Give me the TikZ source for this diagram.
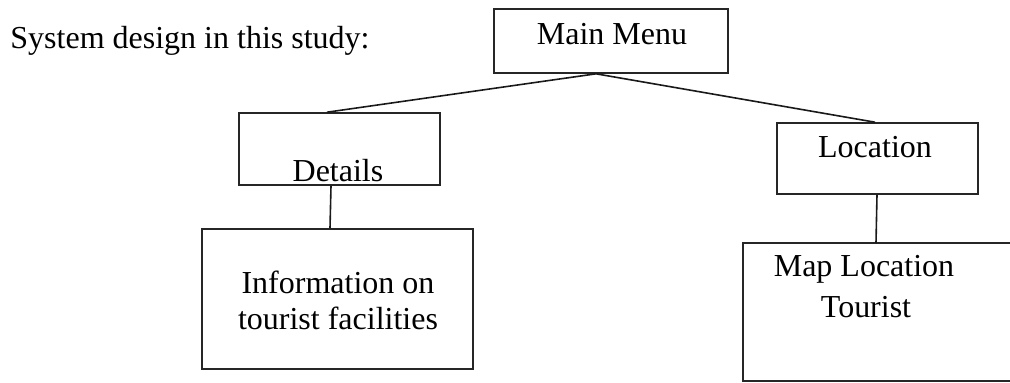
\documentclass[tikz,border=0pt]{standalone}
\usepackage{fontspec}
\setmainfont{Liberation Serif}
\usetikzlibrary{calc}
\begin{document}
\begin{tikzpicture}[x=1pt,y=-1pt,
  box/.style={draw=black!85,line width=1.6pt,rectangle,inner sep=0pt},
  txt/.style={anchor=base,inner sep=0pt,font=\fontsize{32}{36}\selectfont},
  conn/.style={draw=black!90,line width=1.6pt}]
\clip (0,0) rectangle (1010,383);
% boxes
\node[box,minimum width=234pt,minimum height=64pt] (main) at (611,41) {};
\node[box,minimum width=201pt,minimum height=72pt] (det) at (339.5,149) {};
\node[box,minimum width=271pt,minimum height=140pt] (info) at (337.5,299) {};
\node[box,minimum width=201pt,minimum height=71pt] (loc) at (877.5,158.5) {};
\node[box,minimum width=300pt,minimum height=138pt] (map) at (893,312) {};
% texts
\node[txt] (title) at (190,48) {System design in this study:};
\node[txt] (tmain) at (612,44) {Main Menu};
\node[txt] (tdet) at (338,181) {Details};
\node[txt] (tinfo1) at (338,293) {Information on};
\node[txt] (tinfo2) at (338,329) {tourist facilities};
\node[txt] (tloc) at (875,157) {Location};
\node[txt] (tmap1) at (864,276) {Map Location};
\node[txt] (tmap2) at (866,317) {Tourist};
% connectors
\coordinate (mapt) at (876,243);
\draw[conn] ([xshift=-15pt]main.south) -- ([xshift=-12.5pt]det.north);
\draw[conn] ([xshift=-15pt]main.south) -- ([xshift=-2.5pt]loc.north);
\draw[conn] ([xshift=-8.5pt]det.south) -- ([xshift=-7.5pt]info.north);
\draw[conn] ([xshift=-0.5pt]loc.south) -- (mapt);
\end{tikzpicture}
\end{document}
